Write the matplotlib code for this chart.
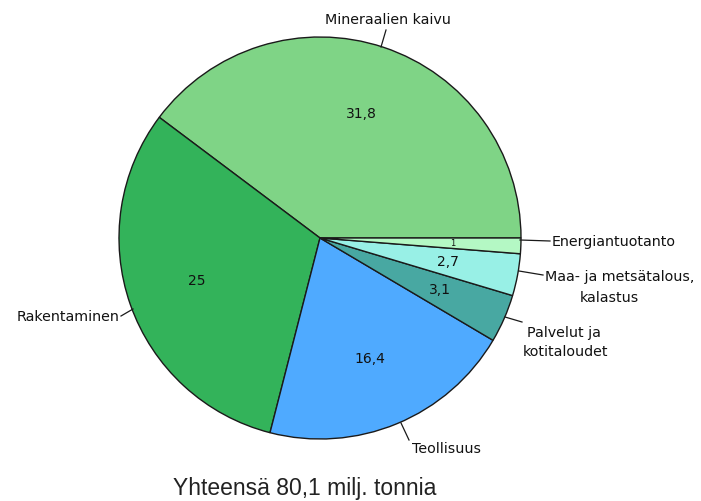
import numpy as np
import matplotlib.pyplot as plt

# data (milj. tonnia)
categories = ["Mineraalien kaivu", "Rakentaminen", "Teollisuus",
              "Palvelut ja\nkotitaloudet", "Maa- ja metsätalous,\nkalastus",
              "Energiantuotanto"]
values = [31.8, 25, 16.4, 3.1, 2.7, 1]
value_labels = ["31,8", "25", "16,4", "3,1", "2,7", "1"]
colors = ["#7fd486", "#33b35a", "#4faaff", "#48a8a2", "#98f0e6", "#b4f8c4"]
total_label = "Yhteensä 80,1 milj. tonnia"

W, H = 701, 501
fig = plt.figure(figsize=(W / 100, H / 100), dpi=100)
ax = fig.add_axes([0, 0, 1, 1])

cx, cy, r = 320, H - 238, 201

wedges, _ = ax.pie(values, colors=colors, startangle=0, counterclock=True,
                   center=(cx, cy), radius=r, frame=True,
                   wedgeprops=dict(edgecolor="#1a1a1a", linewidth=1.0))
ax.set_xlim(0, W)
ax.set_ylim(0, H)
ax.set_aspect("equal")
ax.axis("off")

# values inside the slices
for w, lab in zip(wedges, value_labels):
    mid = np.deg2rad((w.theta1 + w.theta2) / 2)
    d = 0.65 if lab != "1" else 0.66
    fs = 10 if lab != "1" else 6
    ax.text(cx + d * r * np.cos(mid), cy + d * r * np.sin(mid), lab,
            ha="center", va="center", fontsize=fs, color="#111111")

# outside labels with leader lines
lab_font = dict(fontsize=10.3, color="#111111")
leaders = [
    # (pie edge px, line end px, [(text px, ha), ...])
    ((381, 47), (386, 30), [((388, 20), "center")]),
    ((133, 309), (121, 316), [((120, 317), "right")]),
    ((401, 423), (409, 440), [((446, 449), "center")]),
    ((505, 317), (522, 322), [((564, 333), "center"), ((565, 352), "center")]),
    ((519, 271), (543, 275), [((545, 277), "left"), ((609, 298), "center")]),
    ((520, 240), (550, 241), [((552, 242), "left")]),
]
for (p0, p1, texts), name in zip(leaders, categories):
    ax.plot([p0[0], p1[0]], [H - p0[1], H - p1[1]], color="#1a1a1a", lw=0.9)
    for line, (pt, ha) in zip(name.split("\n"), texts):
        ax.text(pt[0], H - pt[1], line, ha=ha, va="center", **lab_font)

ax.text(305, H - 488, total_label, ha="center", va="center",
        fontsize=16.5, family="Liberation Sans", color="#222222")

fig.savefig("out.png", dpi=100)
